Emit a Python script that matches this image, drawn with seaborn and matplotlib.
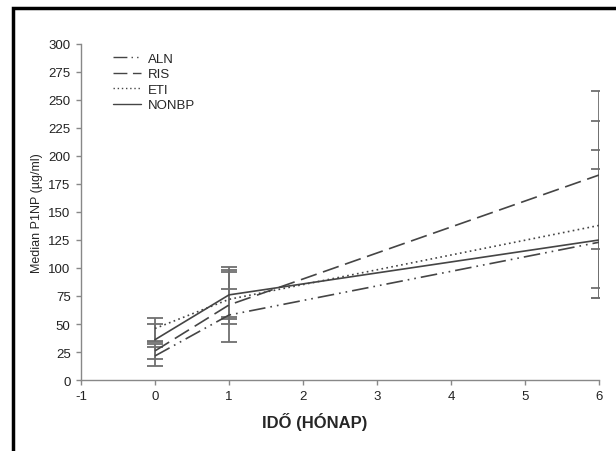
import matplotlib
matplotlib.use("Agg")
import matplotlib.pyplot as plt
import seaborn as sns
import pandas as pd
from matplotlib.patches import Rectangle

# ---- data ----
months = [0, 1, 6]
series = ["ALN", "RIS", "ETI", "NONBP"]
aln = [21.5, 58, 123]
ris = [26, 67, 183]
eti = [46, 72, 138]
nonbp = [36, 76, 125]
aln_low = [12.8, 56, 117]
aln_high = [29.7, 81, 188]
ris_low = [18.75, 33.5, 73.5]
ris_high = [32.1, 96.5, 258]
eti_low = [35.1, 50, 82]
eti_high = [55.4, 98.5, 231.5]
nonbp_low = [34.2, 54.5, 73.5]
nonbp_high = [50, 100.5, 205]
xticks = [-1, 0, 1, 2, 3, 4, 5, 6]
yticks = list(range(0, 301, 25))

values = {"ALN": aln, "RIS": ris, "ETI": eti, "NONBP": nonbp}
lows = {"ALN": aln_low, "RIS": ris_low, "ETI": eti_low, "NONBP": nonbp_low}
highs = {"ALN": aln_high, "RIS": ris_high, "ETI": eti_high, "NONBP": nonbp_high}

rows = []
for s in series:
    for m, v in zip(months, values[s]):
        rows.append({"month": m, "value": v, "group": s})
df = pd.DataFrame(rows)

sns.set_style("ticks")
plt.rcParams["font.family"] = ["Liberation Sans", "DejaVu Sans"]

fig = plt.figure(figsize=(6.16, 4.52), dpi=100)
ax = fig.add_axes([81 / 616, 1 - 381 / 452, (599 - 81) / 616, (381 - 45) / 452])

line_col = "#454545"
err_col = "#707070"

# error bars first (behind lines)
for s in series:
    lo = [v - l for v, l in zip(values[s], lows[s])]
    hi = [h - v for v, h in zip(values[s], highs[s])]
    ax.errorbar(months, values[s], yerr=[lo, hi], fmt="none", ecolor=err_col,
                elinewidth=1.3, capsize=6, capthick=1.3, zorder=1)

dashes = {
    "ALN": (10, 3, 1, 3, 1, 3),
    "RIS": (10, 4),
    "ETI": (1, 2),
    "NONBP": "",
}
sns.lineplot(data=df, x="month", y="value", hue="group", style="group",
             hue_order=series, style_order=series,
             palette=[line_col] * 4, dashes=dashes, linewidth=1.2,
             ax=ax, legend="full", zorder=2)

ax.set_xlim(-1, 6)
ax.set_ylim(0, 300)
ax.set_xticks(xticks)
ax.set_xticklabels([str(t) for t in xticks])
ax.set_yticks(yticks)
ax.tick_params(axis="both", labelsize=9.5, colors="#222222", length=3.5,
               width=1, color="#888888", pad=4)
for sp in ["top", "right"]:
    ax.spines[sp].set_visible(False)
for sp in ["left", "bottom"]:
    ax.spines[sp].set_color("#888888")
    ax.spines[sp].set_linewidth(1)

ax.set_xlabel("IDŐ (HÓNAP)", fontsize=12, fontweight="bold")
ax.xaxis.set_label_coords((315 - 81) / 518, -0.095)
ax.set_ylabel("Median P1NP (µg/ml)", fontsize=9, labelpad=4)

leg = ax.legend(loc="upper left", bbox_to_anchor=(0.052, 0.99), frameon=False,
                fontsize=9.5, handlelength=2.1, handletextpad=0.5,
                labelspacing=0.25, borderaxespad=0)
for h in leg.get_lines():
    h.set_linewidth(1.0)

# outer black frame
fig.add_artist(Rectangle((13 / 616, -0.1), 1.2, 1.1 - 9 / 452, fill=False,
                         edgecolor="black", linewidth=2.5,
                         transform=fig.transFigure, clip_on=False))

fig.savefig("out.png", dpi=100)
